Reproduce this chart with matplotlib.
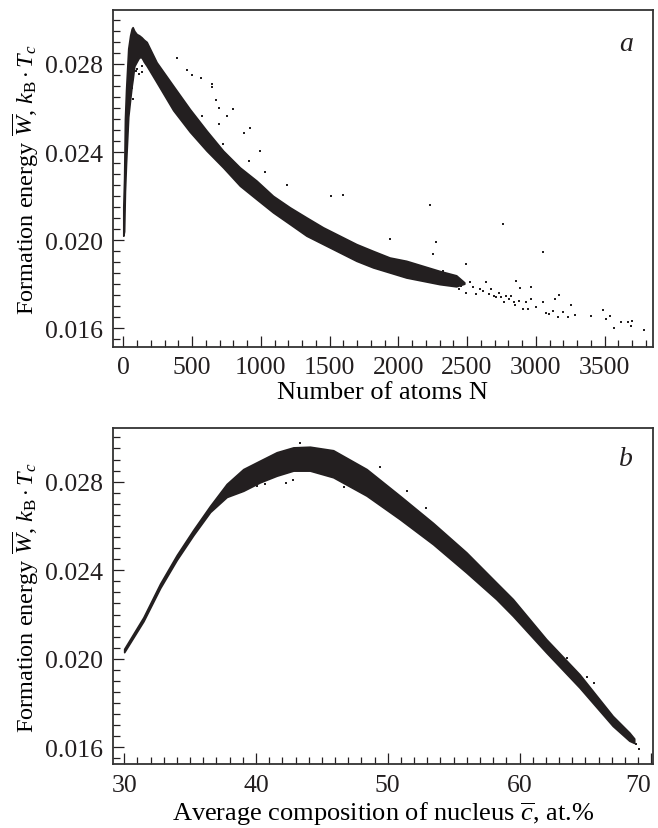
import matplotlib
matplotlib.use("Agg")
import matplotlib.pyplot as plt
from matplotlib.ticker import MultipleLocator

plt.rcParams["font.family"] = ["Liberation Serif", "DejaVu Serif"]
plt.rcParams["mathtext.fontset"] = "custom"
plt.rcParams["mathtext.rm"] = "Liberation Serif"
plt.rcParams["mathtext.it"] = "Liberation Serif:italic"

INK = "#231f20"

# --- panel a: formation energy vs number of atoms ---
# dense band: N, lower edge, upper edge
a_band_n = [0, 6, 12, 20, 36, 50, 61, 68, 80, 97, 115, 133, 150, 170, 242, 363,
            484, 606, 726, 848, 969, 1089, 1211, 1332, 1453, 1574, 1695, 1816,
            1937, 2058, 2179, 2300, 2421, 2480]
a_band_lo = [0.0202, 0.0204, 0.0222, 0.0235, 0.0256, 0.0264, 0.0270, 0.0273, 0.0279,
             0.0281, 0.0283, 0.0283, 0.0281, 0.02792, 0.02717, 0.0259, 0.02492,
             0.02406, 0.0233, 0.02247, 0.02186, 0.02126, 0.02073, 0.0202, 0.01982,
             0.01944, 0.01906, 0.01876, 0.01853, 0.0183, 0.01815, 0.018, 0.0179, 0.01802]
a_band_hi = [0.0215, 0.0228, 0.0255, 0.0268, 0.0287, 0.0293, 0.0296, 0.02967, 0.0295,
             0.02936, 0.0293, 0.02921, 0.0291, 0.0290, 0.02808, 0.02701, 0.02595,
             0.02497, 0.02406, 0.0233, 0.0227, 0.02201, 0.02149, 0.02103, 0.02058,
             0.0202, 0.01982, 0.01951, 0.01921, 0.01906, 0.01883, 0.0186, 0.0184, 0.01808]

# sparse tail and outlying points
a_pts_n = [2276, 2300, 2324, 2349, 2373, 2397, 2421, 2445, 2458, 2494, 2518, 2542,
           2566, 2591, 2614, 2639, 2663, 2675, 2699, 2712, 2736, 2748, 2772, 2784,
           2808, 2821, 2845, 2852, 2857, 2881, 2886, 2910, 2929, 2941, 2966, 2966,
           3002, 3050, 3075, 3099, 3123, 3142, 3159, 3171, 3195, 3232, 3256, 3288,
           3402, 3486, 3511, 3542, 3566, 3619, 3668, 3692, 3699, 3789,
           388, 460, 497, 564, 642, 642, 673, 697, 697, 755, 799, 879, 920, 913,
           993, 1029, 1187, 1508, 1598, 1942, 2227, 2251, 2271, 2494, 2761, 3050,
           726, 569,
           61, 73, 85, 92, 97, 116, 134, 134]
a_pts_w = [0.01845, 0.01815, 0.01861, 0.0180, 0.01838, 0.01815, 0.01823, 0.01777,
           0.01792, 0.01762, 0.01808, 0.01785, 0.01755, 0.01778, 0.0177, 0.01808,
           0.01755, 0.01777, 0.01747, 0.0174, 0.01762, 0.0174, 0.01717, 0.01747,
           0.01732, 0.01747, 0.01717, 0.01705, 0.01815, 0.01724, 0.01782, 0.01686,
           0.0172, 0.01686, 0.01789, 0.01732, 0.01694, 0.01721, 0.01671, 0.01664,
           0.01679, 0.01732, 0.01649, 0.0175, 0.01674, 0.01653, 0.01705, 0.0166,
           0.01656, 0.01682, 0.01641, 0.01656, 0.01599, 0.01626, 0.01626, 0.01611,
           0.01632, 0.01592,
           0.02827, 0.02774, 0.0275, 0.02735, 0.02709, 0.02694, 0.02636, 0.02599,
           0.02527, 0.02562, 0.02595, 0.02485, 0.02508, 0.02358, 0.02406, 0.02308,
           0.0225, 0.02201, 0.02206, 0.02005, 0.0216, 0.01936, 0.0199, 0.01891,
           0.02073, 0.01947,
           0.02436, 0.02562,
           0.02691, 0.02641, 0.0280, 0.0277, 0.02777, 0.02755, 0.02792, 0.02762]

# --- panel b: formation energy vs average composition ---
b_band_c = [30.0, 31.46, 32.73, 33.99, 35.25, 36.52, 37.78, 39.04, 40.3, 41.57, 42.83,
            44.09, 45.86, 48.39, 50.91, 53.43, 55.96, 58.23, 59.49, 62.02, 64.55,
            67.07, 68.33, 68.7]
b_band_lo = [0.0203, 0.0217, 0.0232, 0.02447, 0.02559, 0.02663, 0.02731, 0.02759,
             0.02797, 0.02827, 0.0285, 0.0285, 0.0282, 0.02737, 0.02631, 0.02518,
             0.0239, 0.0227, 0.02194, 0.02029, 0.0187, 0.01697, 0.0163, 0.0162]
b_band_hi = [0.02045, 0.02188, 0.0234, 0.02469, 0.02583, 0.02691, 0.0279, 0.02857,
             0.02895, 0.02933, 0.02955, 0.02958, 0.02942, 0.02857, 0.02737, 0.02614,
             0.02481, 0.02345, 0.0227, 0.02089, 0.0193, 0.01742, 0.01667, 0.0164]

b_pts_c = [38.9, 39.85, 40.05, 40.7, 42.27, 42.83, 43.33, 46.67, 49.39, 51.46,
           52.92, 53.81, 63.58, 65.1, 65.68, 68.84, 69.09]
b_pts_w = [0.02755, 0.0279, 0.0278, 0.0279, 0.02795, 0.02809, 0.02975, 0.02775,
           0.02865, 0.02759, 0.0268, 0.02508, 0.02006, 0.0192, 0.0189, 0.01614, 0.01592]

a_xticks = [0, 500, 1000, 1500, 2000, 2500, 3000, 3500]
b_xticks = [30, 40, 50, 60, 70]

ylabel = r"Formation energy $\overline{W}$, $k_{\mathrm{B}}\cdot T_c$"


def style_axis(ax):
    ax.tick_params(axis="both", which="both", direction="in", labelsize=18.5,
                   top=False, right=False, width=0.9, colors=INK)
    ax.tick_params(which="major", length=8)
    ax.tick_params(which="minor", length=5)
    ax.tick_params(axis="y", which="both", pad=7)
    ax.tick_params(axis="x", which="both", pad=7)
    for spine in ax.spines.values():
        spine.set_linewidth(1.3)
        spine.set_color("#333333")
    ax.yaxis.set_major_locator(MultipleLocator(0.004))
    ax.yaxis.set_minor_locator(MultipleLocator(0.0005))
    ax.yaxis.set_major_formatter(plt.FuncFormatter(lambda v, p: f"{v:.3f}"))
    ax.set_ylabel(ylabel, fontsize=17.5, labelpad=3)


fig = plt.figure(figsize=(6.58, 8.29), dpi=100)

ax_a = fig.add_axes([0.1717, 0.5806, 0.8202, 0.4061])
ax_a.fill_between(a_band_n, a_band_lo, a_band_hi, color=INK, linewidth=1.2, edgecolor=INK)
ax_a.scatter(a_pts_n, a_pts_w, s=4, marker="s", color=INK, linewidths=0)
ax_a.set_xlim(-75, 3850)
ax_a.set_ylim(0.01516, 0.03045)
ax_a.set_xticks(a_xticks)
ax_a.xaxis.set_minor_locator(MultipleLocator(100))
style_axis(ax_a)
ax_a.set_xlabel("Number of atoms N", fontsize=19, labelpad=2)
ax_a.text(0.9635, 0.902, "a", transform=ax_a.transAxes, fontsize=20, style="italic",
          ha="right", va="center", color=INK)

ax_b = fig.add_axes([0.1717, 0.0772, 0.8202, 0.4049])
ax_b.fill_between(b_band_c, b_band_lo, b_band_hi, color=INK, linewidth=1.2, edgecolor=INK)
ax_b.scatter(b_pts_c, b_pts_w, s=4, marker="s", color=INK, linewidths=0)
ax_b.set_xlim(29.15, 70.1)
ax_b.set_ylim(0.01525, 0.03041)
ax_b.set_xticks(b_xticks)
ax_b.set_xticklabels([str(t) for t in b_xticks])
ax_b.get_xticklabels()[-1].set_horizontalalignment("right")
ax_b.xaxis.set_minor_locator(MultipleLocator(1))
style_axis(ax_b)
ax_b.set_xlabel(r"Average composition of nucleus $\overline{c}$, at.%", fontsize=19, labelpad=3)
ax_b.text(0.9635, 0.9115, "b", transform=ax_b.transAxes, fontsize=20, style="italic",
          ha="right", va="center", color=INK)

fig.savefig("out.png", dpi=100)
